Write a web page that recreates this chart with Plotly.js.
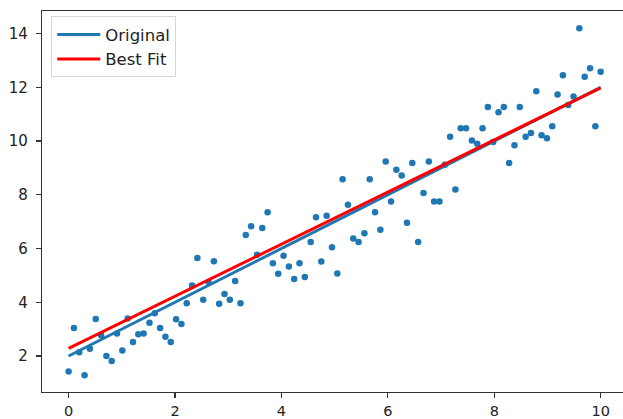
<!DOCTYPE html>
<html>
<head>
<meta charset="utf-8">
<script src="https://cdn.plot.ly/plotly-3.0.1.min.js"></script>
<style>html,body{margin:0;padding:0;background:#fff;}#chart{width:623px;height:419px;}</style>
</head>
<body>
<div id="chart"></div>
<script>
var xValues = [0.00,0.10,0.20,0.30,0.40,0.51,0.61,0.71,0.81,0.91,1.01,1.11,1.21,1.31,1.41,1.52,1.62,1.72,1.82,1.92,2.02,2.12,2.22,2.32,2.42,2.53,2.63,2.73,2.83,2.93,3.03,3.13,3.23,3.33,3.43,3.54,3.64,3.74,3.84,3.94,4.04,4.14,4.24,4.34,4.44,4.55,4.65,4.75,4.85,4.95,5.05,5.15,5.25,5.35,5.45,5.56,5.66,5.76,5.86,5.96,6.06,6.16,6.26,6.36,6.46,6.57,6.67,6.77,6.87,6.97,7.07,7.17,7.27,7.37,7.47,7.58,7.68,7.78,7.88,7.98,8.08,8.18,8.28,8.38,8.48,8.59,8.69,8.79,8.89,8.99,9.09,9.19,9.29,9.39,9.49,9.60,9.70,9.80,9.90,10.00];
var yValues = [1.42,3.04,2.14,1.28,2.27,3.38,2.77,2.00,1.81,2.84,2.20,3.40,2.52,2.81,2.84,3.24,3.59,3.04,2.72,2.52,3.37,3.19,3.96,4.62,5.65,4.09,4.75,5.53,3.94,4.31,4.09,4.79,3.96,6.50,6.83,5.77,6.76,7.35,5.45,5.06,5.73,5.33,4.87,5.45,4.94,6.24,7.16,5.52,7.22,6.05,5.07,8.58,7.63,6.37,6.24,6.57,8.58,7.35,6.70,9.24,7.75,8.93,8.72,6.96,9.18,6.24,8.07,9.24,7.75,7.75,9.12,10.16,8.20,10.48,10.48,10.02,9.90,10.48,11.27,9.96,11.07,11.27,9.18,9.84,11.27,10.16,10.30,11.85,10.22,10.10,10.55,11.73,12.45,11.34,11.66,14.20,12.39,12.71,10.55,12.58];
var lineX = [0, 10];
var originalY = [2.0, 12.0];
var bestFitY = [2.28, 11.98];
var xTicks = [0, 2, 4, 6, 8, 10];
var yTicks = [2, 4, 6, 8, 10, 12, 14];

var tickFont = {family: 'DejaVu Sans, sans-serif', size: 15, color: '#222'};
var xTickFont = {family: 'DejaVu Sans, sans-serif', size: 14.5, color: '#222'};

var traces = [
  {x: xValues, y: yValues, type: 'scatter', mode: 'markers', showlegend: false,
   marker: {color: '#1f77b4', size: 6.5}, hoverinfo: 'x+y'},
  {x: lineX, y: originalY, type: 'scatter', mode: 'lines', name: 'Original',
   line: {color: '#1f77b4', width: 3}},
  {x: lineX, y: bestFitY, type: 'scatter', mode: 'lines', name: 'Best Fit',
   line: {color: '#ff0000', width: 3}}
];

var layout = {
  width: 623, height: 419,
  margin: {l: 41.5, r: 0, t: 11, b: 27, pad: 0},
  paper_bgcolor: '#fff', plot_bgcolor: '#fff',
  font: tickFont,
  showlegend: true,
  legend: {x: 0.016, y: 0.986, xanchor: 'left', yanchor: 'top',
           bgcolor: 'rgba(255,255,255,0.9)', bordercolor: '#d6d6d6', borderwidth: 1,
           font: {family: 'DejaVu Sans, sans-serif', size: 16.5, color: '#222'},
           tracegroupgap: 0, itemwidth: 43},
  xaxis: {range: [-0.5, 10.42], tickvals: xTicks, ticktext: xTicks.map(String),
          showgrid: false, zeroline: false, showline: true, linecolor: '#333', linewidth: 1.2,
          mirror: true, ticks: 'outside', ticklen: 5, tickwidth: 1.2, tickcolor: '#333',
          tickfont: xTickFont, ticklabelstandoff: 0},
  yaxis: {range: [0.66, 14.84], tickvals: yTicks, ticktext: yTicks.map(String),
          showgrid: false, zeroline: false, showline: true, linecolor: '#333', linewidth: 1.2,
          mirror: false, ticks: 'outside', ticklen: 5, tickwidth: 1.2, tickcolor: '#333',
          tickfont: tickFont, ticklabelstandoff: 5}
};

Plotly.newPlot('chart', traces, layout, {displayModeBar: false, staticPlot: true});
</script>
</body>
</html>
